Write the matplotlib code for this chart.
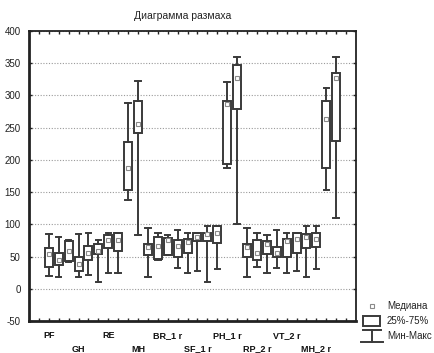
import numpy as np
import matplotlib
matplotlib.use("Agg")
import matplotlib.pyplot as plt
from matplotlib.patches import Rectangle

plt.rcParams['font.family'] = ['Liberation Sans', 'DejaVu Sans']

# Variables (positions 1..30); only every third name is shown on the axis
names = ["PF", "RP", "BR", "GH", "VT", "SF", "RE", "PH", "PHs", "MH",
         "PF_1 r", "RP_1 r", "BR_1 r", "GH_1 r", "VT_1 r", "SF_1 r", "RE_1 r", "MH_1 r", "PH_1 r", "MHs_1 r",
         "PF_2 r", "RP_2 r", "BR_2 r", "GH_2 r", "VT_2 r", "SF_2 r", "RE_2 r", "MH_2 r", "PH_2 r", "MHs_2 r"]

mins = [20, 19, 42, 19, 22, 10, 24, 24, 137, 83,
        19, 44, 52, 33, 24, 27, 10, 31, 188, 100,
        19, 34, 24, 33, 24, 27, 19, 31, 153, 110]
q1s = [34, 37, 43, 27, 45, 54, 64, 58, 153, 242,
       53, 46, 53, 49, 55, 74, 74, 71, 193, 279,
       49, 45, 54, 49, 49, 55, 64, 65, 188, 229]
meds = [54, 44, 59, 38, 55, 58, 75, 75, 188, 255,
        65, 66, 75, 66, 73, 81, 85, 86, 286, 327,
        65, 55, 70, 55, 74, 77, 81, 77, 263, 327]
q3s = [64, 56, 74, 49, 66, 70, 83, 86, 228, 291,
       70, 81, 79, 76, 77, 86, 86, 98, 291, 348,
       70, 76, 74, 65, 77, 86, 85, 87, 291, 335]
maxs = [85, 81, 75, 85, 86, 75, 86, 87, 289, 323,
        94, 86, 84, 91, 86, 87, 98, 98, 321, 359,
        94, 86, 84, 91, 86, 87, 97, 97, 312, 359]

yticks = [-50, 0, 50, 100, 150, 200, 250, 300, 350, 400]

W, H = 434, 353
fig = plt.figure(figsize=(W / 100, H / 100), dpi=100)
fig.patch.set_facecolor('white')
ax = fig.add_axes([29 / W, 1 - 321 / H, (356 - 29) / W, (321 - 31) / H])

pos = np.arange(1, len(names) + 1)
stats = [dict(med=m, q1=a, q3=b, whislo=lo, whishi=hi, label=n)
         for n, lo, a, m, b, hi in zip(names, mins, q1s, meds, q3s, maxs)]

edge = '#3a3a3a'
ax.bxp(stats, positions=pos, widths=0.8, patch_artist=True, showfliers=False,
       boxprops=dict(facecolor='white', edgecolor=edge, linewidth=1.4),
       whiskerprops=dict(color=edge, linewidth=1.4),
       capprops=dict(color=edge, linewidth=1.4),
       capwidths=0.55,
       medianprops=dict(linewidth=0), manage_ticks=False)
ax.plot(pos, meds, linestyle='none', marker='s', markersize=3.2,
        markerfacecolor='white', markeredgecolor='#8a8a8a', markeredgewidth=0.8, zorder=5)

ax.set_xlim(-1, 32)
ax.set_ylim(-50, 400)
ax.set_yticks(yticks)
ax.set_yticklabels([str(v) for v in yticks], fontsize=7, color='#222222')
ax.set_xticks(np.arange(0, 32))
ax.set_xticklabels([])
ax.tick_params(axis='both', direction='in', length=2.5, width=1, color='#222222',
               top=True, right=True, pad=3)
ax.tick_params(axis='y', length=2, pad=6)
ax.grid(axis='y', linestyle=(0, (1, 1.5)), color='#9a9a9a', linewidth=0.8)
ax.set_axisbelow(True)
for side in ['left', 'bottom']:
    ax.spines[side].set_linewidth(2.0)
for side in ['top', 'right']:
    ax.spines[side].set_linewidth(1.3)
for s in ax.spines.values():
    s.set_color('#222222')

# every third variable labelled, alternating rows
trans = ax.get_xaxis_transform()
for k, i in enumerate(range(0, len(names), 3)):
    yrow = -15 / 290 if k % 2 == 0 else -28 / 290
    ax.text(pos[i], yrow, names[i], transform=trans, ha='center', va='center',
            fontsize=6.5, fontweight='bold', color='#111111')

fig.text(183 / W, 1 - 16 / H, 'Диаграмма размаха', ha='center', va='center',
         fontsize=7.5, color='#222222')

# legend
lax = fig.add_axes([0, 0, 1, 1])
lax.set_xlim(0, W)
lax.set_ylim(H, 0)
lax.axis('off')
lax.plot([372], [306], marker='s', markersize=3.2, markerfacecolor='white',
         markeredgecolor='#8a8a8a', markeredgewidth=0.8)
lax.add_patch(Rectangle((363, 315.5), 17, 10, facecolor='white', edgecolor=edge, linewidth=1.4))
lax.plot([363, 381], [330, 330], color=edge, linewidth=1.4)
lax.plot([372, 372], [330, 342], color=edge, linewidth=1.4)
lax.plot([361, 383], [342, 342], color=edge, linewidth=1.4)
for ty, txt in [(306, 'Медиана'), (321, '25%-75%'), (336, 'Мин-Макс')]:
    lax.text(387, ty, txt, ha='left', va='center', fontsize=7, color='#222222')

fig.savefig('out.png', dpi=100)
